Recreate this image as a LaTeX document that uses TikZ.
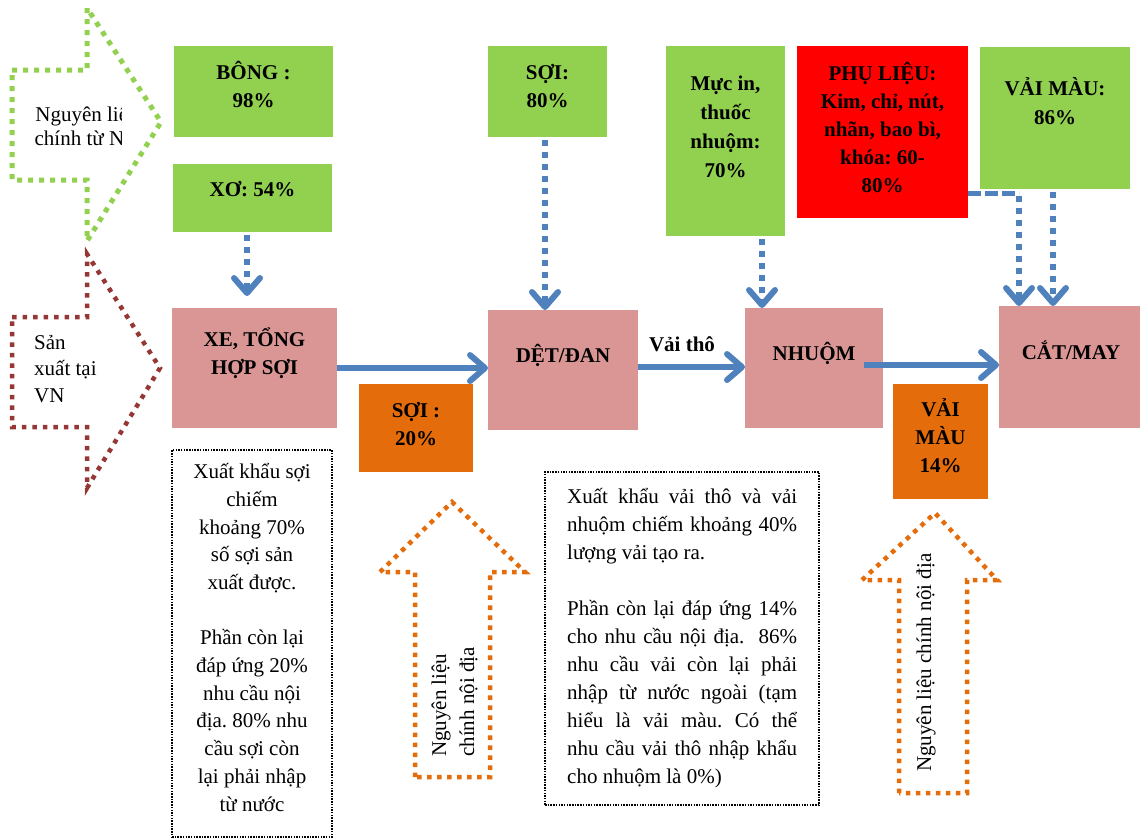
\documentclass[tikz,border=0pt]{standalone}
\usepackage{fontspec}
\setmainfont{Liberation Serif}
\usetikzlibrary{arrows.meta}
\definecolor{cgreen}{HTML}{92D050}
\definecolor{cpink}{HTML}{D99694}
\definecolor{corange}{HTML}{E46C0A}
\definecolor{cred}{HTML}{FF0000}
\definecolor{cblue}{HTML}{4F81BD}
\definecolor{cdred}{HTML}{953735}
\newcommand\jline[1]{\makebox[230pt][s]{#1}}
\frenchspacing
\begin{document}
\begin{tikzpicture}[x=1pt,y=-1pt,
  fbox/.style={inner sep=0pt, outer sep=0pt},
  gbox/.style={fbox, fill=cgreen},
  pbox/.style={fbox, fill=cpink},
  obox/.style={fbox, fill=corange},
  rbox/.style={fbox, fill=cred},
  dotbox/.style={fbox, draw=black, line width=1.5pt, dash pattern=on 1.5pt off 1.2pt},
  btxt/.style={inner sep=0pt, align=center, anchor=base, font=\bfseries\fontsize{21}{28}\selectfont},
  ntxt/.style={inner sep=0pt, font=\fontsize{21}{27.7}\selectfont},
  barrow/.style={draw=cblue, line width=6pt, -{Straight Barb[length=15pt,width=26pt,round]}},
  darrow/.style={barrow, dash pattern=on 6pt off 6pt, dash phase=9pt},
  hdash/.style={draw=cblue, line width=5pt, dash pattern=on 13pt off 4pt},
  bigarrow/.style={line width=5pt, dash pattern=on 5pt off 6pt, line join=miter},
]
\useasboundingbox (0,0) rectangle (1140,839);

% big outline arrows
\draw[bigarrow, draw=cgreen] (12,70) -- (87,70) -- (87,8) -- (161,122) -- (87,241) -- (87,180) -- (12,180) -- cycle;
\draw[bigarrow, draw=cdred, line width=4.5pt, dash pattern=on 4.5pt off 6pt] (12,317) -- (87,317) -- (87,254) -- (160,368) -- (87,488) -- (87,427) -- (12,427) -- cycle;
\draw[bigarrow, draw=corange, line width=4.5pt, dash pattern=on 4.5pt off 5.5pt] (415,777) -- (415,572) -- (380,572) -- (452,502) -- (525,572) -- (490,572) -- (490,777) -- cycle;
\draw[bigarrow, draw=corange, line width=4.5pt, dash pattern=on 4.5pt off 5.5pt] (899,793) -- (899,580) -- (862,580) -- (935,513) -- (997,580) -- (967,580) -- (967,793) -- cycle;

\begin{scope}
\clip (0,0) rectangle (121,300);
\node[ntxt, align=center, anchor=base, font=\fontsize{21}{24}\selectfont] (nk) at (87,145) {Nguyên liệu\\chính từ NK};
\end{scope}
\node[ntxt, align=left, anchor=base west, font=\fontsize{21}{26.5}\selectfont] (sx) at (34,402) {Sản\\xuất tại\\VN};

% boxes
\node[gbox, minimum width=159pt, minimum height=91pt] (bong) at (253.5,91.5) {};
\node[gbox, minimum width=159pt, minimum height=68pt] (xo) at (252.5,198) {};
\node[gbox, minimum width=119pt, minimum height=91pt] (soi80) at (547.5,91.5) {};
\node[gbox, minimum width=119pt, minimum height=190pt] (muc) at (725.5,141) {};
\node[rbox, minimum width=171pt, minimum height=172pt] (phu) at (882.5,132) {};
\node[gbox, minimum width=150pt, minimum height=142pt] (vm) at (1055,118) {};
\node[pbox, minimum width=165pt, minimum height=120pt] (xe) at (254.5,368) {};
\node[pbox, minimum width=150pt, minimum height=120pt] (det) at (563,370) {};
\node[pbox, minimum width=138pt, minimum height=120pt] (nhuom) at (814,368) {};
\node[pbox, minimum width=141pt, minimum height=122pt] (cat) at (1069.5,367) {};
\node[obox, minimum width=114pt, minimum height=88pt] (soi20) at (416,428) {};
\node[obox, minimum width=95pt, minimum height=115pt] (vm14) at (940.5,441.5) {};
\node[dotbox, minimum width=160pt, minimum height=387pt] (note1) at (252,643.5) {};
\node[dotbox, minimum width=274pt, minimum height=333pt] (note2) at (682,638.5) {};

% box texts
\node[btxt] at (253.5,107) {BÔNG :\\98\%};
\node[btxt] at (252.5,196) {XƠ: 54\%};
\node[btxt] at (547.5,107) {SỢI:\\80\%};
\node[btxt, font=\bfseries\fontsize{21}{29}\selectfont] at (725.5,177) {Mực in,\\thuốc\\nhuộm:\\70\%};
\node[btxt] at (882.5,192) {PHỤ LIỆU:\\Kim, chỉ, nút,\\nhãn, bao bì,\\khóa: 60-\\80\%};
\node[btxt, font=\bfseries\fontsize{21}{29}\selectfont] at (1055,124) {VẢI MÀU:\\86\%};
\node[btxt] at (254.5,374) {XE, TỔNG\\HỢP SỢI};
\node[btxt] at (563,362) {DỆT/ĐAN};
\node[btxt] at (814,360) {NHUỘM};
\node[btxt] at (1071,359) {CẮT/MAY};
\node[btxt] at (416,445) {SỢI :\\20\%};
\node[btxt] at (940.5,472) {VẢI\\MÀU\\14\%};
\node[btxt] (vt) at (682,351) {Vải thô};

% notes
\node[ntxt, align=center, anchor=base] at (252,811) {Xuất khẩu sợi\\chiếm\\khoảng 70\%\\số sợi sản\\xuất được.\\[27.7pt]Phần còn lại\\đáp ứng 20\%\\nhu cầu nội\\địa. 80\% nhu\\cầu sợi còn\\lại phải nhập\\từ nước};
\node[ntxt, align=left, anchor=base west, font=\fontsize{21}{28}\selectfont] at (567,783) {\jline{Xuất khẩu vải thô và vải}\\\jline{nhuộm chiếm khoảng 40\%}\\lượng vải tạo ra.\\[28pt]\jline{Phần còn lại đáp ứng 14\%}\\\jline{cho nhu cầu nội địa.\ \ 86\%}\\\jline{nhu cầu vải còn lại phải}\\\jline{nhập từ nước ngoài (tạm}\\\jline{hiểu là vải màu. Có thể}\\\jline{nhu cầu vải thô nhập khẩu}\\cho nhuộm là 0\%)};

% rotated texts
\node[ntxt, rotate=90, anchor=base west, align=left, font=\fontsize{21}{28}\selectfont] at (474,757) {Nguyên liệu\\chính nội địa};
\node[ntxt, rotate=90, anchor=base west] at (931,772) {Nguyên liệu chính nội địa};

% connectors
\draw[barrow] (xe.east) -- (xe.east -| det.west);
\draw[barrow] ([yshift=3pt]det.east) -- ([yshift=3pt]det.east -| nhuom.west);
\draw[barrow] ([xshift=-19pt,yshift=3pt]nhuom.east) -- ([yshift=3pt]nhuom.east -| cat.west);
\coordinate (t1) at (247,296);
\draw[darrow] ([xshift=-5.5pt]xo.south) -- (t1);
\draw[darrow] ([xshift=-2.5pt]soi80.south) -- ([xshift=-2.5pt]soi80.south |- det.north);
\draw[darrow] ([xshift=36.5pt]muc.south) -- ([xshift=36.5pt]muc.south |- nhuom.north);
\coordinate (c1) at (1019,193);
\draw[hdash] (phu.east |- c1) -- (c1);
\draw[darrow] (c1) -- (c1 |- cat.north);
\draw[darrow] ([xshift=-2pt]vm.south) -- ([xshift=-2pt]vm.south |- cat.north);
\end{tikzpicture}
\end{document}
